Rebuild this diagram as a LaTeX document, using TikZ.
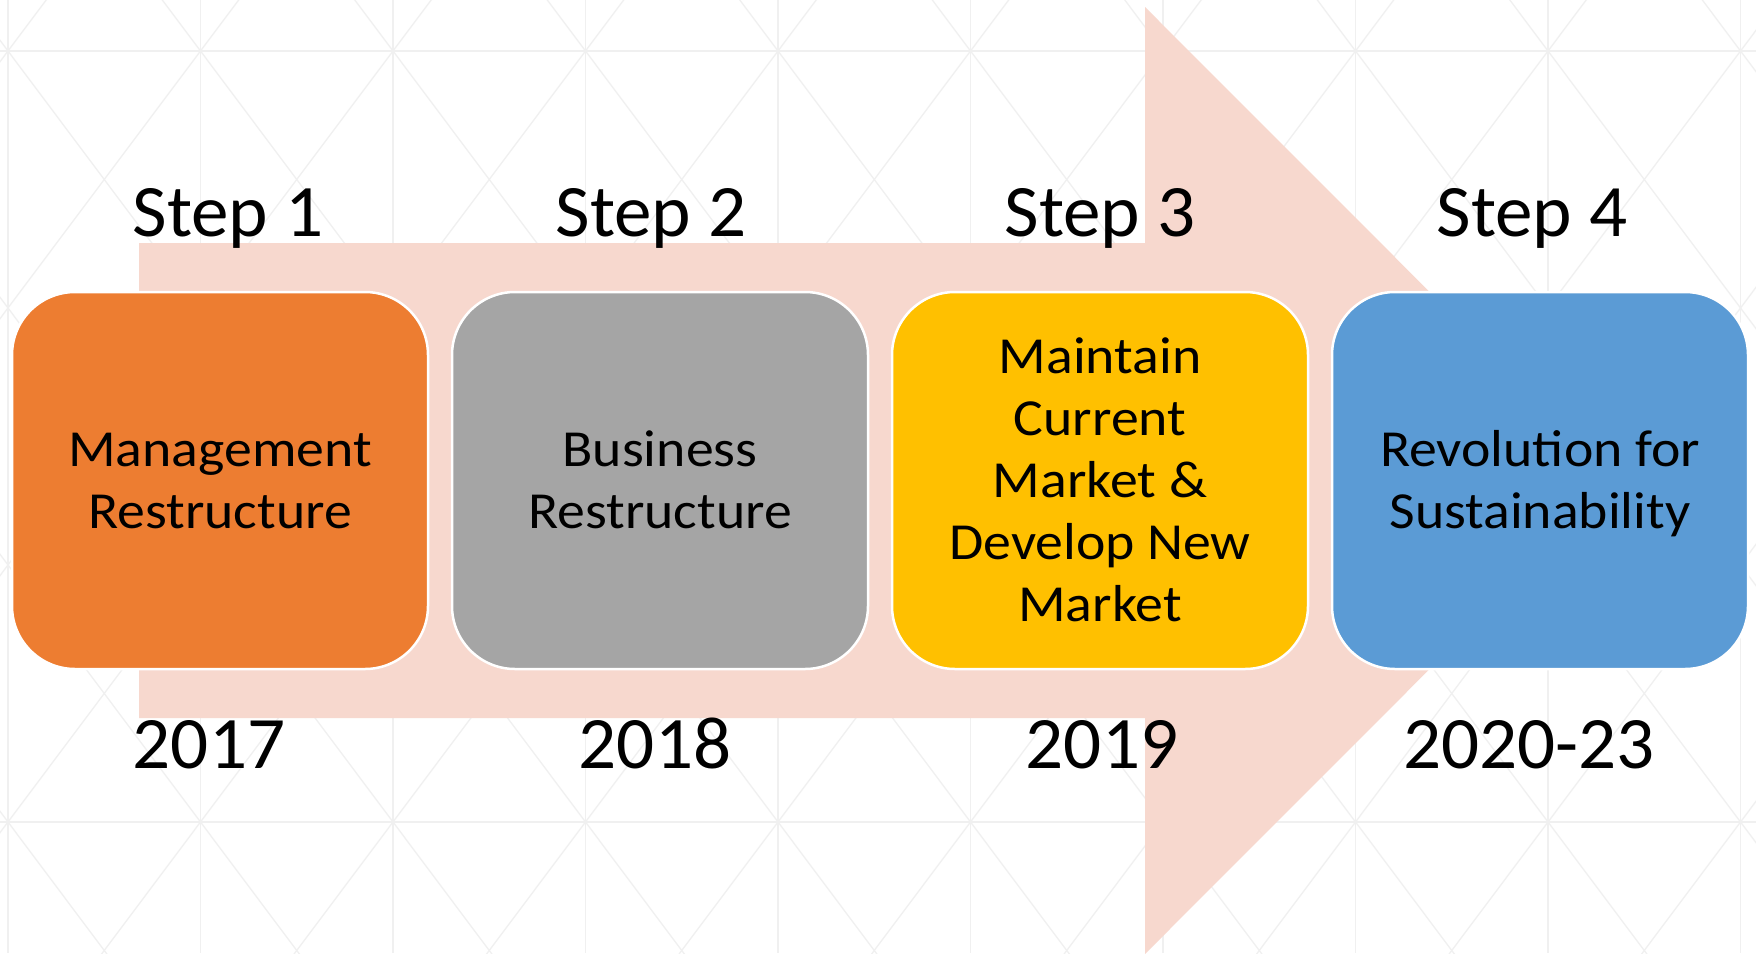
\documentclass[tikz,border=0pt]{standalone}
\usepackage{fontspec}
\setmainfont{Carlito}
\newfontfamily\cardfamily[FakeStretch=1.072]{Carlito}
\newfontfamily\lblfamily[FakeStretch=1.015]{Carlito}
\newcommand\cardfont{\cardfamily\fontsize{52pt}{62pt}\selectfont}
\newcommand\lblfont{\lblfamily\fontsize{74pt}{89pt}\selectfont}
\newcommand\mytopstrut{\rule{0pt}{0.95em}}
\newcommand\mybotstrut{\rule[-0.307em]{0pt}{0.307em}}
\definecolor{cOrange}{HTML}{ED7D31}
\definecolor{cGrey}{HTML}{A5A5A5}
\definecolor{cGold}{HTML}{FFC000}
\definecolor{cBlue}{HTML}{5B9BD5}
\definecolor{arrowpink}{HTML}{F7D8CE}
\definecolor{gridc}{HTML}{F0F0F0}
\tikzset{
  gridline/.style={draw=gridc, line width=1.3pt},
  card/.style={draw=white, line width=2.5pt, rounded corners=63pt,
    minimum width=416pt, minimum height=377pt, inner sep=0pt,
    align=center, font=\cardfont, text=black},
  lbl/.style={font=\lblfont, anchor=base, inner sep=0pt, text=black},
}
\begin{document}
\begin{tikzpicture}[x=1pt,y=-1pt]
\useasboundingbox (0,0) rectangle (1756,953);
\fill[white] (0,0) rectangle (1756,953);
\begin{scope}
  \clip (0,0) rectangle (1756,953);
  \foreach \j in {-5,...,13}{
    \pgfmathsetmacro\xo{8+192.5*\j}
    \draw[gridline] (\xo-113.1,-100) -- (\xo+748.3,1050);
    \draw[gridline] (\xo+113.1,-100) -- (\xo-748.3,1050);
  }
  \foreach \j in {0,...,9}{
    \draw[gridline] (8+192.5*\j,0) -- (8+192.5*\j,953);
  }
  \draw[gridline] (0,51) -- (1756,51);
  \draw[gridline] (0,822) -- (1756,822);
  % big background arrow
  \fill[arrowpink] (139,243) -- (1145,243) -- (1145,7) -- (1618,480.5)
    -- (1145,954) -- (1145,718) -- (139,718) -- cycle;
\end{scope}
% cards
\node[card, fill=cOrange] (b1) at (220,480.5) {\mytopstrut Management\\Restructure\mybotstrut};
\node[card, fill=cGrey] (b2) at (660,480.5) {\mytopstrut Business\\Restructure\mybotstrut};
\node[card, fill=cGold] (b3) at (1100,480.5) {\mytopstrut Maintain\\Current\\Market \&\\Develop New\\Market\mybotstrut};
\node[card, fill=cBlue] (b4) at (1540,480.5) {\mytopstrut Revolution for\\Sustainability\mybotstrut};
% step labels
\node[lbl] (s1) at (228,236) {Step 1};
\node[lbl] (s2) at (651,236) {Step 2};
\node[lbl] (s3) at (1100,236) {Step 3};
\node[lbl] (s4) at (1532,236) {Step 4};
% year labels
\node[lbl] (y1) at (209,768) {2017};
\node[lbl] (y2) at (655,768) {2018};
\node[lbl] (y3) at (1102,768) {2019};
\node[lbl] (y4) at (1529,768) {2020-23};
\end{tikzpicture}
\end{document}
